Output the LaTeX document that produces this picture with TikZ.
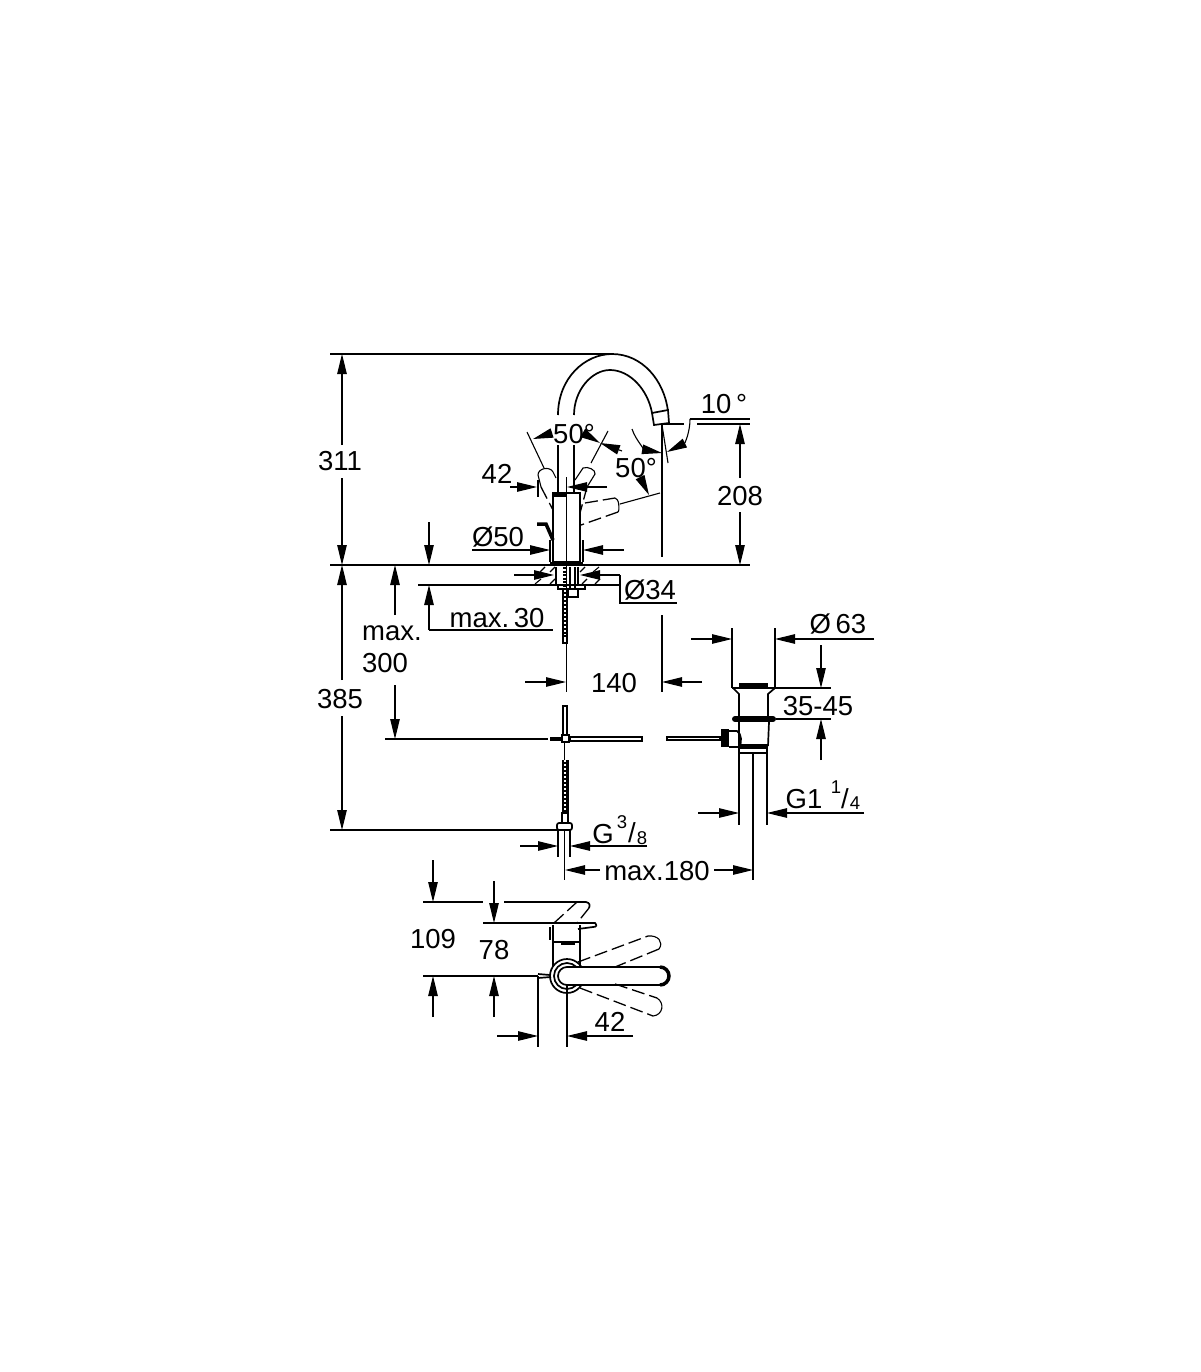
\documentclass[tikz,border=0pt]{standalone}
\usepackage{fontspec}
\setmainfont{Liberation Sans}
\usetikzlibrary{arrows.meta}
\tikzset{
  dimtext/.style={font=\fontsize{27.5}{29}\selectfont, inner sep=0pt, yshift=-1pt},
  smalltext/.style={font=\fontsize{18.5}{20}\selectfont, inner sep=0pt},
  thinline/.style={line width=1.1pt},
  partline/.style={line width=1.7pt},
  heavyline/.style={line width=3.5pt},
  dashline/.style={line width=1.3pt, dash pattern=on 13pt off 5pt},
  hosefill/.style={fill=black},
  hosedots/.style={white, line width=2pt, dash pattern=on 2pt off 2pt},
  dimarrow/.style={-{Triangle[length=20pt,width=9.5pt]}, line width=1.1pt}
}
\begin{document}
\begin{tikzpicture}[x=1pt,y=-1pt]
  \useasboundingbox (0,0) rectangle (1200,1372);

  % Labels
  \node[dimtext] (t311) at (340,460) {311};
  \node[dimtext] (t385) at (340,698) {385};
  \node[dimtext] (t208) at (740,495) {208};
  \node[dimtext] (t10) at (724,403) {10\,°};
  \node[dimtext] (ttop50) at (574,433) {50°};
  \node[dimtext] (tlow50) at (636,467) {50°};
  \node[dimtext] (t42) at (497,473) {42};
  \node[dimtext] (tdia50) at (498,536) {Ø50};
  \node[dimtext] (tdia34) at (650,589) {Ø34};
  \node[dimtext] (tmax30) at (497,617) {max.\,30};
  \node[dimtext] (tmax) at (392,632) {max.};
  \node[dimtext] (t300) at (385,662) {300};
  \node[dimtext] (t140) at (614,682) {140};
  \node[dimtext] (tdia63) at (838,623) {Ø\,63};
  \node[dimtext] (t3545) at (818,705) {35-45};
  \node[dimtext] (tgone) at (804,798) {G1};
  \node[smalltext] (tone) at (836,787) {1};
  \node[dimtext] (tslasha) at (845,798) {/};
  \node[smalltext] (tfour) at (855,803) {4};
  \node[dimtext] (tg) at (603,833) {G};
  \node[smalltext] (tthree) at (622,822) {3};
  \node[dimtext] (tslashb) at (632,832) {/};
  \node[smalltext] (teight) at (642,838) {8};
  \node[dimtext] (tmax180) at (657,870) {max.180};
  \node[dimtext] (t109) at (433,938) {109};
  \node[dimtext] (t78) at (494,949) {78};
  \node[dimtext] (tb42) at (610,1021) {42};

  % Extension lines
  \draw[thinline] (330,354) -- (612,354);
  \draw[thinline] (330,565) -- (750,565);
  \draw[thinline] (330,830) -- (557,830);
  \draw[thinline] (662,424) -- (684,424);
  \draw[thinline] (697,424) -- (750,424);
  \draw[thinline] (690,419) -- (750,419);
  \draw[thinline] (662,424) -- (662,557);
  \draw[thinline] (662,425) -- (668,463);
  \draw[thinline] (527,432) -- (544,468);
  \draw[thinline] (608,431) -- (591,463);
  \draw[thinline] (620,504) -- (660,493);
  \draw[thinline] (418,585) -- (555,585);
  \draw[thinline] (429,630) -- (553,630);
  \draw[thinline] (620,575) -- (620,603) -- (677,603);
  \draw[thinline] (385,739) -- (548,739);
  \draw[thinline] (566.5,477) -- (566.5,692);
  \draw[thinline] (662,615) -- (662,692);
  \draw[thinline] (538,480) -- (538,497);
  \draw[thinline] (550,540) -- (550,562);
  \draw[thinline] (583,540) -- (583,562);
  \draw[thinline] (732,628) -- (732,688);
  \draw[thinline] (775,628) -- (775,688);
  \draw[thinline] (775,688) -- (831,688);
  \draw[thinline] (776,719) -- (831,719);
  \draw[thinline] (739,753) -- (739,825);
  \draw[thinline] (767,753) -- (767,825);
  \draw[thinline] (753,753) -- (753,880);
  \draw[thinline] (558,830) -- (558,857);
  \draw[thinline] (570,830) -- (570,857);
  \draw[thinline] (564.5,830) -- (564.5,880);
  \draw[thinline] (423,902) -- (483,902);
  \draw[thinline] (504,902) -- (578,902);
  \draw[thinline] (483,923) -- (554,923);
  \draw[thinline] (423,976) -- (538,976);
  \draw[thinline] (538,976) -- (538,1047);
  \draw[thinline] (567,976) -- (567,1047);

  % Dimension arrows
  \draw[dimarrow] (342,445) -- (342,354);
  \draw[dimarrow] (342,478) -- (342,565);
  \draw[dimarrow] (342,680) -- (342,565);
  \draw[dimarrow] (342,716) -- (342,830);
  \draw[dimarrow] (740,478) -- (740,424);
  \draw[dimarrow] (740,512) -- (740,565);
  \draw[dimarrow] (690,419) .. controls (690,432) and (685,443) .. (667,452);
  \draw[dimarrow] (632,429) .. controls (636,441) and (646,450) .. (662,453);
  \draw[dimarrow] (552,433) -- (533,439);
  \draw[dimarrow] (583,433) -- (600,443);
  \draw[dimarrow] (622,451) -- (600,443);
  \draw[dimarrow] (640,477) -- (649,495);
  \draw[dimarrow] (510,487) -- (537,487);
  \draw[dimarrow] (607,487) -- (567,487);
  \draw[dimarrow] (472,550) -- (550,550);
  \draw[dimarrow] (624,550) -- (583,550);
  \draw[dimarrow] (514,575) -- (554,575);
  \draw[dimarrow] (620,575) -- (580,575);
  \draw[dimarrow] (429,522) -- (429,565);
  \draw[dimarrow] (429,630) -- (429,585);
  \draw[dimarrow] (395,615) -- (395,565);
  \draw[dimarrow] (395,685) -- (395,739);
  \draw[dimarrow] (525,682) -- (566,682);
  \draw[dimarrow] (702,682) -- (662,682);
  \draw[dimarrow] (691,639) -- (732,639);
  \draw[dimarrow] (874,639) -- (775,639);
  \draw[dimarrow] (821,645) -- (821,688);
  \draw[dimarrow] (821,760) -- (821,719);
  \draw[dimarrow] (698,813) -- (739,813);
  \draw[dimarrow] (864,813) -- (767,813);
  \draw[dimarrow] (520,846) -- (558,846);
  \draw[dimarrow] (647,846) -- (570,846);
  \draw[dimarrow] (600,870) -- (565,870);
  \draw[dimarrow] (714,870) -- (753,870);
  \draw[dimarrow] (433,860) -- (433,902);
  \draw[dimarrow] (433,1017) -- (433,976);
  \draw[dimarrow] (494,881) -- (494,923);
  \draw[dimarrow] (494,1017) -- (494,976);
  \draw[dimarrow] (497,1036) -- (538,1036);
  \draw[dimarrow] (633,1036) -- (567,1036);

  % Spout
  \draw[partline] (558,415) .. controls (558,378) and (585,354) .. (612,354) .. controls (642,354) and (664,380) .. (668,411);
  \draw[partline] (574,415) .. controls (574,390) and (592,370) .. (610,370) .. controls (630,370) and (648,390) .. (652,413);
  \draw[partline] (652,413) -- (668,410) -- (669,423) -- (654,425) -- cycle;
  \draw[partline] (558,445) -- (558,492);
  \draw[partline] (574,445) -- (574,492);

  % Body
  \draw[partline] (553,493) rectangle (580,562);
  \draw[heavyline] (554,495.5) -- (566,495.5);
  \draw[heavyline] (550,563.5) -- (583,563.5);
  \draw[heavyline] (537,524) -- (546,524) -- (553,540);

  % Lever positions
  \draw[thinline] (541,487) -- (538,475) .. controls (538,468) and (550,466) .. (553,472) -- (556,478);
  \draw[dashline] (541,487) -- (553,510);
  \draw[thinline] (575,480) -- (583,468) .. controls (588,466) and (596,470) .. (595,474) -- (587,487);
  \draw[dashline] (587,487) -- (580,513);
  \draw[dashline] (585,503) -- (615,498);
  \draw[thinline] (615,498) .. controls (619,498) and (620,510) .. (618,512);
  \draw[dashline] (618,512) -- (581,525);

  % Counter and shank
  \draw[partline] (556,567) -- (556,585);
  \draw[partline] (578,567) -- (578,585);
  \draw[partline] (570,567) -- (570,590);
  \draw[partline] (575,567) -- (575,590);
  \draw[partline] (558,585) rectangle (585,589);
  \draw[partline] (568,589) rectangle (578,597);
  \draw[thinline] (528,585) -- (620,585);
  \draw[thinline] (535,584) -- (541,579);
  \draw[thinline] (540,572) -- (545,567);
  \draw[thinline] (550,572) -- (555,567);
  \draw[thinline] (550,584) -- (555,579);
  \draw[thinline] (580,572) -- (585,567);
  \draw[thinline] (593,572) -- (599,567);
  \draw[thinline] (582,584) -- (587,579);
  \draw[thinline] (595,584) -- (600,579);

  % Hoses
  \draw[line width=3pt, dash pattern=on 2pt off 1.5pt] (564,567) -- (564,590);
  \fill[hosefill] (561.5,590) rectangle (568,636);
  \draw[hosedots] (565,590) -- (565,636);
  \draw[partline] (563,636) rectangle (567,643);
  \fill[hosefill] (561.5,760) rectangle (568.5,813);
  \draw[hosedots] (565,760) -- (565,813);
  \draw[partline] (562,813) rectangle (568,823);
  \draw[partline, rounded corners=2pt] (557,823) rectangle (572,830);
  \draw[thinline] (564.5,742) -- (564.5,760);

  % Cross piece
  \draw[partline] (563,706) rectangle (567,735);
  \draw[partline] (570,737) rectangle (642,741);
  \draw[heavyline] (550,739) -- (562,739);
  \draw[partline] (562,735) rectangle (569,742);

  % Waste
  \draw[line width=5pt] (739,685) -- (768,685);
  \draw[partline] (732,688) -- (775,688);
  \draw[partline] (733,688) -- (739,694) -- (739,716);
  \draw[partline] (775,688) -- (768,694) -- (768,716);
  \draw[line width=6pt, line cap=round] (735,719) -- (773,719);
  \draw[partline] (739,722) -- (739,746);
  \draw[partline] (769,722) -- (768,746);
  \draw[heavyline] (740,746) -- (768,746);
  \draw[partline] (739,748) rectangle (767,753);
  \draw[partline] (729,731) -- (737,731) .. controls (742,734) and (742,743) .. (739,747) -- (729,747);
  \draw[line width=8pt] (724.5,729) -- (724.5,747);
  \draw[partline] (667,737) rectangle (720,740);

  % Top view
  \draw[dashline] (554,923) -- (577,902);
  \draw[partline] (577,902) -- (586,902) .. controls (590,903) and (590,905) .. (589,908);
  \draw[dashline] (589,908) -- (577,923);
  \draw[partline] (554,923) -- (595,923) .. controls (597,925) and (597,927) .. (593,927) -- (578,929);
  \draw[partline] (553,925) -- (553,966);
  \draw[partline] (580,925) -- (580,966);
  \draw[partline] (553,942) -- (580,942);
  \draw[heavyline] (561,943) -- (575,943);
  \draw[dashline] (550,927) -- (550,942);
  \draw[partline] (567,976) circle (17);
  \draw[partline] (567,976) circle (13);
  \draw[partline, fill=white] (567,967) -- (660,967) arc (-90:90:9) -- (567,985) arc (90:270:9) -- cycle;
  \draw[heavyline] (660,967) arc (-90:90:9);
  \draw[dashline] (578,962) -- (648,936);
  \draw[dashline] (659,949) -- (615,967);
  \draw[thinline] (648,936) .. controls (658,935) and (664,942) .. (659,949);
  \draw[dashline] (580,988) -- (653,1016);
  \draw[dashline] (615,984) -- (657,998);
  \draw[thinline] (653,1016) .. controls (663,1015) and (665,1003) .. (657,998);
  \draw[partline] (538,974) -- (550,975);
  \draw[partline] (538,978) -- (551,977);
\end{tikzpicture}
\end{document}
